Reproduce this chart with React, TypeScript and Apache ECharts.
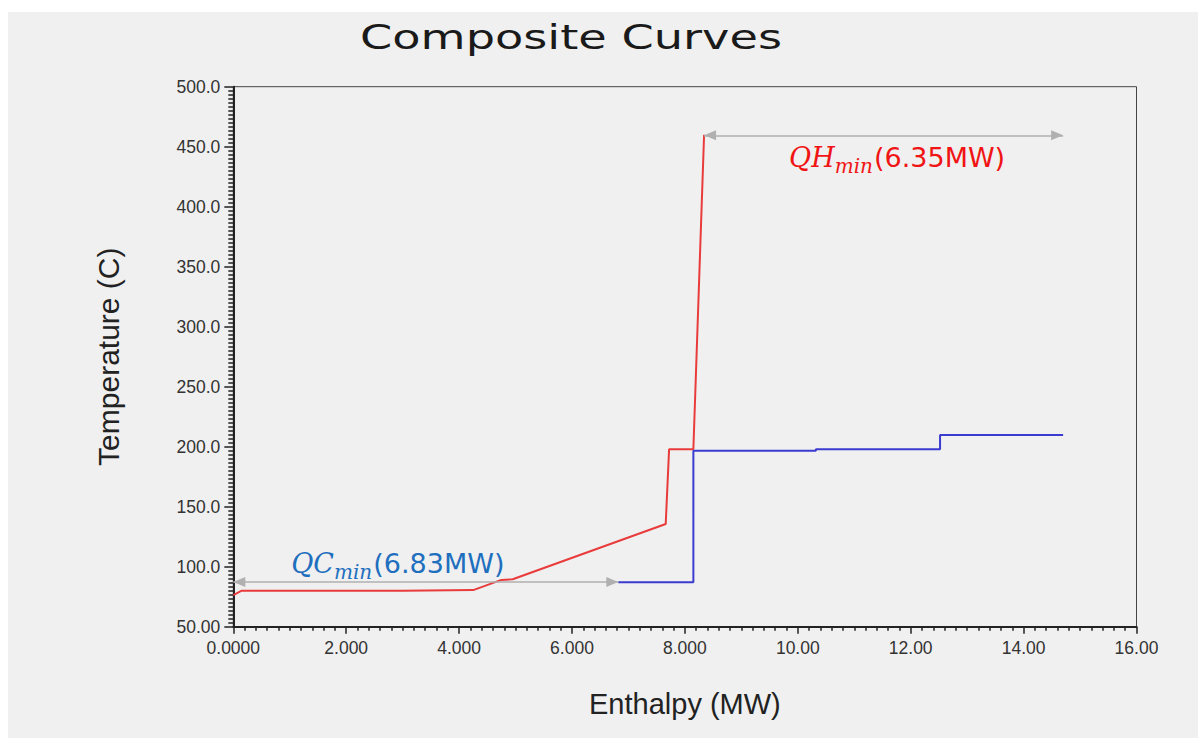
import React, { useEffect, useRef } from "react";
import * as echarts from "echarts";

// Hot composite curve (red)
const hotX = [0, 0.15, 3.0, 3.0, 4.25, 4.75, 4.95, 7.66, 7.72, 8.15, 8.34];
const hotY = [76.4, 80.0, 80.0, 80.5, 80.5, 89.0, 89.5, 135.6, 197.8, 197.8, 460.0];

// Cold composite curve (blue)
const coldX = [6.82, 8.15, 8.15, 10.32, 10.32, 12.52, 12.52, 14.7];
const coldY = [87.0, 87.0, 196.7, 196.7, 197.8, 197.8, 209.8, 209.8];

// Arrows: [x1, x2, y]
const qcArrow = [0, 6.82, 87.2];
const qhArrow = [8.34, 14.7, 459.5];
const qcLabel = "(6.83MW)";
const qhLabel = "(6.35MW)";

const xTickLabels = ["0.0000", "2.000", "4.000", "6.000", "8.000", "10.00", "12.00", "14.00", "16.00"];
const yTickLabels = ["50.00", "100.0", "150.0", "200.0", "250.0", "300.0", "350.0", "400.0", "450.0", "500.0"];

const hotData = hotX.map((x, i) => [x, hotY[i]]);
const coldData = coldX.map((x, i) => [x, coldY[i]]);

const mathRich = (color: string) => ({
  q: { fontFamily: "DejaVu Serif", fontStyle: "italic", fontSize: 27, lineHeight: 30, color },
  s: { fontFamily: "DejaVu Serif", fontStyle: "italic", fontSize: 20, lineHeight: 20, padding: [17, 1, 0, 0], color },
  n: { fontFamily: "DejaVu Sans", fontSize: 27, lineHeight: 30, color },
});

const option: any = {
  animation: false,
  backgroundColor: "transparent",
  graphic: [
    {
      type: "text",
      x: 571,
      y: 37,
      scaleX: 1.36,
      style: {
        text: "Composite Curves",
        font: '34px "DejaVu Sans"',
        fill: "#1a1a1a",
        textAlign: "center",
        textVerticalAlign: "middle",
      },
    },
  ],
  grid: {
    left: 233.3,
    right: 61.5,
    top: 86.7,
    bottom: 111.3,
    show: true,
    borderColor: "#444",
    borderWidth: 1,
    backgroundColor: "transparent",
  },
  xAxis: {
    type: "value",
    min: 0,
    max: 16,
    interval: 2,
    name: "Enthalpy (MW)",
    nameLocation: "middle",
    nameGap: 63,
    nameTextStyle: { fontFamily: "Liberation Sans", fontSize: 29, color: "#222" },
    axisLine: { show: true, onZero: false, lineStyle: { color: "#222", width: 2 } },
    axisTick: { show: true, inside: false, length: 7, lineStyle: { color: "#222", width: 1.5 } },
    minorTick: { show: true, splitNumber: 10, length: 4, lineStyle: { color: "#222", width: 1.5 } },
    splitLine: { show: false },
    axisLabel: {
      margin: 12,
      fontFamily: "Liberation Sans",
      fontSize: 17.5,
      color: "#333",
      formatter: (v: number) => xTickLabels[Math.round(v / 2)] ?? String(v),
    },
  },
  yAxis: {
    type: "value",
    min: 50,
    max: 500,
    interval: 50,
    name: "Temperature (C)",
    nameLocation: "middle",
    nameGap: 110,
    nameTextStyle: { fontFamily: "Liberation Sans", fontSize: 30, color: "#222" },
    axisLine: { show: true, onZero: false, lineStyle: { color: "#222", width: 2 } },
    axisTick: { show: true, inside: false, length: 9, lineStyle: { color: "#222", width: 1.5 } },
    minorTick: { show: true, splitNumber: 15, length: 5, lineStyle: { color: "#222", width: 1.5 } },
    splitLine: { show: false },
    axisLabel: {
      margin: 13,
      fontFamily: "Liberation Sans",
      fontSize: 17.5,
      color: "#333",
      formatter: (v: number) => yTickLabels[Math.round((v - 50) / 50)] ?? String(v),
    },
  },
  series: [
    {
      name: "Hot",
      type: "line",
      data: hotData,
      showSymbol: false,
      symbol: "none",
      lineStyle: { color: "#e93b3b", width: 2 },
      silent: true,
      z: 3,
    },
    {
      name: "Cold",
      type: "line",
      data: coldData,
      showSymbol: false,
      symbol: "none",
      lineStyle: { color: "#3b3bd0", width: 2 },
      silent: true,
      z: 3,
      markLine: {
        silent: true,
        symbol: ["triangle", "triangle"],
        symbolSize: [10, 12],
        symbolOffset: [[0, 6], [0, 6]],
        animation: false,
        lineStyle: { color: "#b0b0b0", width: 1.5, type: "solid" },
        data: [
          [
            {
              coord: [qcArrow[0], qcArrow[2]],
              label: {
                show: true,
                position: "insideMiddleTop",
                distance: 4,
                padding: [0, 56, 0, 0],
                formatter: "{q|QC}{s|min}{n|" + qcLabel + "}",
                rich: mathRich("#1f6fbf"),
              },
            },
            { coord: [qcArrow[1], qcArrow[2]] },
          ],
          [
            {
              coord: [qhArrow[0], qhArrow[2]],
              label: {
                show: true,
                position: "insideMiddleBottom",
                distance: 7,
                padding: [0, 0, 0, 27],
                formatter: "{q|QH}{s|min}{n|" + qhLabel + "}",
                rich: mathRich("#f01414"),
              },
            },
            { coord: [qhArrow[1], qhArrow[2]] },
          ],
        ],
      },
    },
  ],
};

export default function App() {
  const ref = useRef<HTMLDivElement>(null);
  useEffect(() => {
    if (!ref.current) return;
    const chart = echarts.init(ref.current, null, { renderer: "svg" });
    chart.setOption(option);
    return () => chart.dispose();
  }, []);
  return (
    <div style={{ position: "fixed", left: 0, top: 0, width: 1198, height: 738, background: "#ffffff" }}>
      <div style={{ position: "absolute", left: 8, top: 12, right: 0, bottom: 0, background: "#f0f0f0" }} />
      <div ref={ref} style={{ position: "absolute", left: 0, top: 0, width: 1198, height: 738 }} />
    </div>
  );
}
